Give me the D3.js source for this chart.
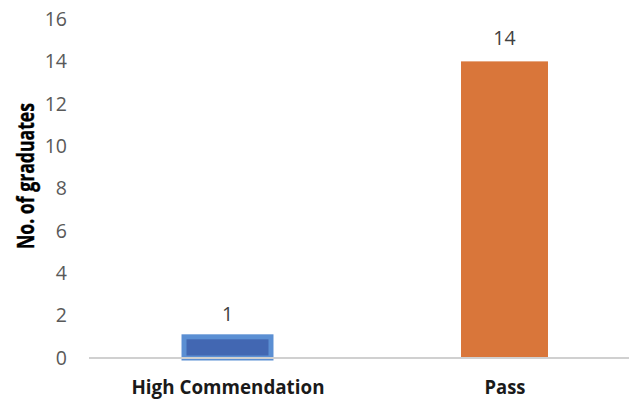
<!DOCTYPE html>
<html>
<head>
<meta charset="utf-8">
<script src="https://cdn.jsdelivr.net/npm/d3@7"></script>
<style>
  html, body { margin: 0; padding: 0; background: #fff; }
  svg { display: block; font-family: "Open Sans", "Liberation Sans", sans-serif; }
</style>
</head>
<body>
<svg id="chart" width="629" height="400"></svg>
<script>
// Graduates by result category
const categories = ["High Commendation", "Pass"];
const graduates = [1, 14];
const yTicks = [0, 2, 4, 6, 8, 10, 12, 14, 16];
const barColors = ["#4267b2", "#d9763a"];
const barStroke = ["#5b8fd3", "none"];
// rendered widths of the category labels (narrow, Calibri-like set)
const labelWidths = [193, 41];

const svg = d3.select("#chart");
const plotLeft = 89, plotRight = 643, plotTop = 19, plotBottom = 358;

const x = d3.scalePoint().domain(categories).range([plotLeft, plotRight]).padding(0.5);
const barW = x.step() * 0.314;
const y = d3.scaleLinear().domain([0, 16]).range([plotBottom, plotTop]);

// y tick labels (no axis line, no gridlines)
const yAxis = d3.axisLeft(y).tickValues(yTicks).tickSize(0).tickPadding(0);
const gy = svg.append("g").attr("transform", `translate(${plotLeft - 22},0)`).call(yAxis);
gy.select(".domain").remove();
gy.selectAll("text").attr("fill", "#595959").style("font-size", "19.5px")
  .style("font-family", "'Open Sans', sans-serif");

// bars
svg.append("g").selectAll("rect").data(categories).join("rect")
  .attr("x", d => x(d) - barW / 2)
  .attr("y", (d, i) => y(graduates[i]))
  .attr("width", barW)
  .attr("height", (d, i) => plotBottom - y(graduates[i]))
  .attr("fill", (d, i) => barColors[i])
  .attr("stroke", (d, i) => barStroke[i])
  .attr("stroke-width", 5);

// category axis
const xAxis = d3.axisBottom(x).tickSize(0).tickPadding(22);
const gx = svg.append("g").attr("transform", `translate(0,${plotBottom})`).call(xAxis);
gx.select(".domain").attr("stroke", "#d0d0d0").attr("stroke-width", 2)
  .attr("d", `M${plotLeft},0H${plotRight}`);
gx.selectAll("text").attr("fill", "#1a1a1a").style("font-size", "20px")
  .style("font-weight", "bold").style("font-family", "'Open Sans', sans-serif")
  .attr("textLength", (d, i) => labelWidths[i])
  .attr("lengthAdjust", "spacingAndGlyphs");

// value labels
svg.append("g").selectAll("text").data(categories).join("text")
  .attr("x", d => x(d))
  .attr("y", (d, i) => y(graduates[i]) - 16)
  .attr("text-anchor", "middle")
  .attr("fill", "#404040")
  .style("font-size", "19.5px")
  .text((d, i) => graduates[i]);

// y axis title
svg.append("text")
  .attr("transform", `translate(34,176) rotate(-90)`)
  .attr("text-anchor", "middle")
  .attr("fill", "#000")
  .attr("stroke", "#000")
  .attr("stroke-width", 0.4)
  .style("font-size", "23px")
  .style("font-weight", "bold")
  .attr("textLength", 146)
  .attr("lengthAdjust", "spacingAndGlyphs")
  .text("No. of graduates");
</script>
</body>
</html>
